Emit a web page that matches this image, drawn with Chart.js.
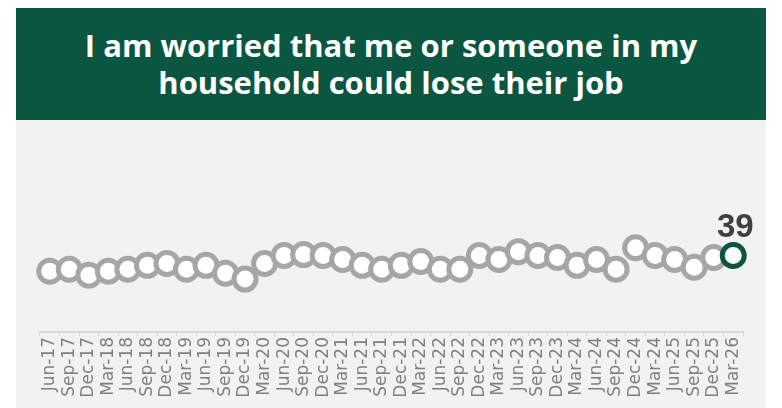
<!DOCTYPE html>
<html>
<head>
<meta charset="utf-8">
<script src="https://cdn.jsdelivr.net/npm/chart.js@4"></script>
<style>
  html, body { margin: 0; padding: 0; background: #fff; }
  body { width: 782px; height: 408px; position: relative; overflow: hidden; }
  #title {
    position: absolute; left: 16px; top: 8px; width: 750px; height: 112px;
    background: #0b5641; color: #fff; display: flex; align-items: center; justify-content: center;
    text-align: center; font-family: "Open Sans", sans-serif; font-weight: 700; font-size: 31px; line-height: 37px;
  }
  #plot { position: absolute; left: 16px; top: 120px; width: 750px; height: 288px; background: #f2f2f2; }
</style>
</head>
<body>
<div id="title">I am worried that me or someone in my<br>household could lose their job</div>
<div id="plot"><canvas id="chart" width="750" height="288"></canvas></div>
<script>
const quarters = ['Jun-17','Sep-17','Dec-17','Mar-18','Jun-18','Sep-18','Dec-18','Mar-19','Jun-19','Sep-19',
  'Dec-19','Mar-20','Jun-20','Sep-20','Dec-20','Mar-21','Jun-21','Sep-21','Dec-21','Mar-22',
  'Jun-22','Sep-22','Dec-22','Mar-23','Jun-23','Sep-23','Dec-23','Mar-24','Jun-24','Sep-24',
  'Dec-24','Mar-24','Jun-25','Sep-25','Dec-25','Mar-26'];

const worried = [31, 32, 29, 31, 32, 34, 35, 32, 34, 30,
  27, 35, 39, 39.5, 39, 37, 34, 32, 34, 36,
  32, 32, 39, 37, 41, 39, 38, 34, 37, 32,
  43, 39, 37, 33, 38, 39];

const GREEN = '#0b5641';
const GREY = '#a6a6a6';

const lastLabel = {
  id: 'lastLabel',
  afterDatasetsDraw(chart) {
    const meta = chart.getDatasetMeta(0);
    const pt = meta.data[meta.data.length - 1];
    const ctx = chart.ctx;
    ctx.save();
    ctx.font = 'bold 33px "Liberation Sans", sans-serif';
    ctx.fillStyle = '#404040';
    ctx.textAlign = 'center';
    ctx.textBaseline = 'alphabetic';
    ctx.fillText(String(worried[worried.length - 1]), pt.x + 2, pt.y - 19);
    ctx.restore();
  }
};

new Chart(document.getElementById('chart'), {
  type: 'line',
  data: {
    labels: quarters,
    datasets: [{
      data: worried,
      showLine: false,
      pointRadius: 11,
      pointHoverRadius: 11,
      pointBorderWidth: 5,
      pointBackgroundColor: '#ffffff',
      pointBorderColor: worried.map((v, i) => i === worried.length - 1 ? GREEN : GREY),
    }]
  },
  options: {
    responsive: false,
    animation: false,
    events: [],
    layout: { padding: { left: 24, right: 23, top: 9, bottom: 0 } },
    plugins: { legend: { display: false }, tooltip: { enabled: false } },
    scales: {
      x: {
        offset: true,
        grid: { offset: true, drawOnChartArea: false, drawTicks: true, tickLength: 4, color: '#d9d9d9' },
        border: { color: '#d9d9d9', width: 2 },
        ticks: {
          autoSkip: false, maxRotation: 90, minRotation: 90, padding: 1,
          color: '#808080', font: { family: '"DejaVu Sans", sans-serif', size: 17 }
        },
        afterFit: s => { s.height = 76; }
      },
      y: { display: false, min: 0, max: 100 }
    }
  },
  plugins: [lastLabel]
});
</script>
</body>
</html>
